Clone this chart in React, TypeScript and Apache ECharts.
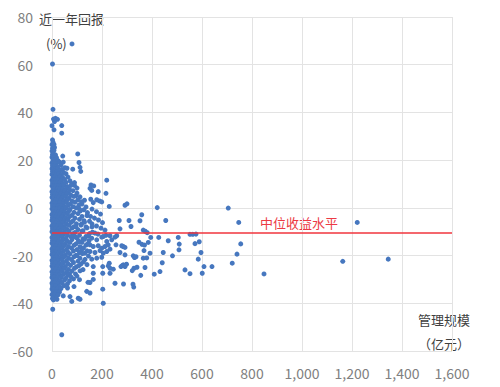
import React, { useEffect, useRef } from "react";
import * as echarts from "echarts";

// x: 管理规模 (亿元), y: 近一年回报 (%)
const xTicks = [0, 200, 400, 600, 800, 1000, 1200, 1400, 1600];
const yTicks = [-60, -40, -20, 0, 20, 40, 60, 80];
const medianReturn = -10.4;

const largeFunds = [
  [705, -0.1], [747, -6.1], [755, -15.1], [740, -19.4], [721, -23.2], [848, -27.7],
  [1163, -22.4], [1221, -6.1], [1345, -21.5],
];

const outlierFunds = [
  [80, 68.7], [2, 60.3], [4, 41.3], [6, 37.2], [14, 37.5], [22, 37.1], [10, 36.2], [0, 34.4],
  [39, 34.5], [8, 32.7], [39, 31.3], [2, 28.5], [4, 27.5], [8, 26.6], [43, 21.7], [103, 22.6],
  [45, 19.2], [108, 19], [112, 17], [115, 15.3], [83, 16.2], [52, 16.8], [60, 16.6],
  [3, -42.5], [39, -53.2], [105, -37.9], [45, -36.9], [72, -37.2], [79, -39.2], [112, -38.3],
  [139, -35], [152, -35.7], [12, -37.5], [2, -38],
];

const midFunds = [
  [219, 11.6], [216, 6.1], [152, 8.2], [159, 7.3], [167, 9.2], [156, 9.6], [185, 6.8], [179, 3.4],
  [190, 2.9], [199, 2.5], [155, 3.6], [165, 2.2], [229, 0.6], [292, 1.1], [300, 1.7], [421, 0.1],
  [160, -0.5], [178, -1.6], [194, -2.6], [154, -3.6], [170, -4.3], [186, -5.1], [202, -6.2],
  [160, -6.7], [178, -7.6], [196, -8.5], [212, -9.3], [269, -5.3], [308, -5.3], [352, -5.4],
  [359, -2.9], [455, -5.3], [316, -7.8], [272, -8.8], [365, -9.3], [373, -9.8], [381, -10.4],
  [162, -10.2], [184, -11], [216, -11.5], [232, -11.7], [259, -11.7], [252, -12.3], [205, -12],
  [159, -12.7], [179, -13.4], [199, -12.3], [219, -14.1], [239, -13.4], [152, -15.5], [165, -16.2],
  [185, -15.9], [199, -16.9], [212, -16.2], [225, -15.5], [232, -17.3], [256, -15.5], [279, -15.9],
  [285, -16.2], [292, -16.6], [152, -18.3], [172, -18.7], [192, -17.9], [205, -19], [219, -18.3],
  [272, -18.7], [292, -19.7], [325, -20.1], [159, -21.5], [179, -21.1], [199, -20.7], [229, -23.2],
  [285, -23.9], [165, -24.6], [203, -24.6], [225, -24.3], [232, -25.3], [245, -25.7], [276, -24.6],
  [165, -27.4], [203, -27.4], [232, -27.4], [252, -31.6], [152, -31.3], [286, -31.9], [203, -34.1],
  [205, -40], [324, -32], [327, -33.2], [165, -30], [144, -31.2],
  [395, -12.4], [427, -12.4], [465, -13.8], [505, -12.4], [509, -15.2], [508, -17.6], [552, -11.1],
  [563, -11.1], [576, -11], [572, -15], [589, -14.2], [596, -18.7], [585, -21.5], [608, -24.6],
  [640, -24.6], [601, -27.4], [552, -27.6], [532, -26], [482, -20.1], [441, -23], [432, -26.7],
  [409, -27.8], [348, -14.4], [360, -15.3], [370, -15.6], [385, -14.5], [368, -17.9], [445, -18.7],
  [392, -19], [379, -21], [365, -21.1], [372, -25], [355, -28.3], [330, -20.8], [336, -20.5],
  [340, -24.9], [328, -25.3], [321, -26.3], [281, -24.2], [292, -24.6], [298, -23.6],
];

const smallFunds = [
  [0, 26.5], [6, 26.2], [2, 25], [10, 25.3], [0, 23.8], [8, 24.1], [2, 22.4], [6, 22.6], [14, 22.2],
  [0, 21.2], [8, 21.4], [18, 21], [4, 20], [12, 20.2], [24, 19.8], [0, 18.8], [8, 18.9], [16, 18.6], [30, 19.1],
  [2, 17.6], [10, 17.7], [20, 17.4], [36, 17.9], [0, 16.4], [6, 16.5], [14, 16.3], [24, 16.6], [40, 16.1],
  [2, 15.2], [10, 15.3], [18, 15.1], [30, 15.4], [46, 14.9], [0, 14], [8, 14.1], [16, 13.9], [26, 14.2], [38, 13.8], [56, 14.3],
  [4, 12.8], [12, 12.9], [20, 12.7], [32, 13.1], [44, 12.5], [64, 12.9],
  [0, 11.6], [8, 11.7], [16, 11.5], [26, 11.8], [36, 11.4], [50, 11.9], [72, 11.3],
  [2, 10.4], [12, 10.5], [20, 10.3], [30, 10.6], [42, 10.2], [56, 10.7], [80, 10.1], [90, 10.6],
  [0, 9.2], [8, 9.3], [16, 9.1], [26, 9.4], [36, 9], [48, 9.5], [62, 8.9], [90, 9.4], [76, 9.4],
  [4, 8], [12, 8.1], [22, 7.9], [32, 8.2], [44, 7.8], [58, 8.3], [70, 7.7], [100, 8.3],
  [0, 6.8], [8, 6.9], [18, 6.7], [28, 7], [40, 6.6], [52, 7.1], [66, 6.5], [84, 7.2], [100, 6.2],
  [2, 5.6], [12, 5.7], [22, 5.5], [34, 5.8], [46, 5.4], [60, 5.9], [76, 5.3], [96, 5.1],
  [0, 4.4], [8, 4.5], [18, 4.3], [28, 4.6], [40, 4.2], [54, 4.7], [68, 4.1], [88, 4.8], [112, 4.6],
  [4, 3.2], [14, 3.3], [24, 3.1], [36, 3.4], [48, 3], [62, 3.5], [80, 2.9], [104, 3.4], [130, 3.2],
  [0, 2], [10, 2.1], [20, 1.9], [30, 2.2], [44, 1.8], [58, 2.3], [74, 1.7], [92, 2.4], [120, 1.6], [118, 2.6],
  [2, 0.8], [12, 0.9], [24, 0.7], [36, 1], [50, 0.6], [66, 1.1], [84, 0.5], [108, 1.2], [136, 0.4],
  [0, -0.4], [8, -0.3], [18, -0.5], [30, -0.2], [42, -0.6], [56, -0.1], [72, -0.7], [96, 0], [128, -0.8], [110, -0.6],
  [4, -1.6], [14, -1.5], [26, -1.7], [38, -1.4], [52, -1.8], [68, -1.3], [88, -1.9], [114, -1.2], [142, -2],
  [0, -2.8], [10, -2.7], [20, -2.9], [32, -2.6], [46, -3], [62, -2.5], [80, -3.1], [104, -2.4], [140, -3.2],
  [2, -4], [14, -3.9], [26, -4.1], [40, -3.8], [54, -4.2], [70, -3.7], [92, -4.3], [120, -3.6],
  [0, -5.2], [8, -5.1], [20, -5.3], [34, -5], [48, -5.4], [64, -4.9], [84, -5.5], [110, -4.8], [150, -5.6], [128, -5.4],
  [4, -6.4], [16, -6.3], [28, -6.5], [42, -6.2], [58, -6.6], [76, -6.1], [98, -6.7], [130, -6], [118, -6.8],
  [0, -7.6], [10, -7.5], [22, -7.7], [36, -7.4], [50, -7.8], [68, -7.3], [88, -7.9], [116, -7.2], [160, -8], [96, -8], [136, -8],
  [2, -8.8], [14, -8.7], [28, -8.9], [44, -8.6], [60, -9], [80, -8.5], [104, -9.1], [140, -8.4],
  [0, -10], [8, -9.9], [20, -10.1], [34, -9.8], [50, -10.2], [68, -9.7], [92, -10.3], [124, -9.6], [172, -10.6], [120, -9.8],
  [4, -11.2], [16, -11.1], [30, -11.3], [46, -11], [62, -11.4], [82, -10.9], [110, -11.5], [150, -10.8], [146, -11.8], [92, -12],
  [0, -12.4], [10, -12.3], [24, -12.5], [40, -12.2], [56, -12.6], [76, -12.1], [100, -12.7], [136, -12], [124, -13],
  [2, -13.6], [14, -13.5], [28, -13.7], [44, -13.4], [60, -13.8], [80, -13.3], [106, -13.9], [130, -13.2], [148, -13.8],
  [0, -14.8], [8, -14.7], [22, -14.9], [38, -14.6], [54, -15], [72, -14.5], [96, -15.1], [120, -14.4], [142, -15.2], [108, -14.2],
  [4, -16], [16, -15.9], [32, -16.1], [48, -15.8], [66, -16.2], [88, -15.7], [112, -16.3], [136, -15.6],
  [0, -17.2], [10, -17.1], [24, -17.3], [40, -17], [58, -17.4], [78, -16.9], [100, -17.5], [126, -16.8], [118, -17.8],
  [2, -18.4], [14, -18.3], [30, -18.5], [46, -18.2], [64, -18.6], [86, -18.1], [110, -18.7], [140, -18], [132, -19],
  [0, -19.6], [8, -19.5], [22, -19.7], [38, -19.4], [54, -19.8], [72, -19.3], [96, -19.9], [122, -19.2], [146, -20.2], [100, -20],
  [4, -20.8], [16, -20.7], [32, -20.9], [48, -20.6], [66, -21], [88, -20.5], [112, -21.1],
  [0, -22], [10, -21.9], [24, -22.1], [40, -21.8], [58, -22.2], [78, -21.7], [104, -22.3], [132, -21.6], [126, -22.6],
  [2, -23.2], [14, -23.1], [30, -23.3], [46, -23], [64, -23.4], [86, -22.9], [116, -23.5], [140, -23.8],
  [0, -24.4], [8, -24.3], [22, -24.5], [38, -24.2], [54, -24.6], [74, -24.1], [98, -24.7], [108, -24.2],
  [4, -25.6], [16, -25.5], [32, -25.7], [48, -25.4], [66, -25.8], [90, -25.3], [124, -25.9], [112, -26.4],
  [0, -26.8], [10, -26.7], [24, -26.9], [40, -26.6], [58, -27], [80, -26.5], [70, -27.6],
  [2, -28], [14, -27.9], [30, -28.1], [46, -27.8], [64, -28.2], [94, -27.7], [100, -28.6],
  [0, -29.2], [8, -29.1], [22, -29.3], [38, -29], [56, -29.4], [76, -28.9], [86, -29.8],
  [4, -30.4], [16, -30.3], [32, -30.5], [50, -30.2], [70, -30.6], [110, -30.1],
  [0, -31.6], [10, -31.5], [24, -31.7], [40, -31.4], [62, -31.8],
  [2, -32.8], [14, -32.7], [30, -32.9], [48, -32.6], [88, -33], [62, -33.6],
  [0, -34], [8, -33.9], [20, -34.1], [36, -33.8],
  [4, -35.2], [16, -35.1], [30, -35.3],
  [0, -36.4], [10, -36.3], [24, -36.5],
  [6, -38.6], [20, -38.3],
];

const allFunds = [...smallFunds, ...outlierFunds, ...midFunds, ...largeFunds];

const FONT = '"Noto Sans CJK SC", "Noto Sans", sans-serif';

export default function App() {
  const ref = useRef<HTMLDivElement>(null);
  useEffect(() => {
    if (!ref.current) return;
    const chart = echarts.init(ref.current, null, { renderer: "svg" });
    chart.setOption({
      animation: false,
      backgroundColor: "#ffffff",
      grid: { left: 52, right: 48, top: 17, bottom: 36 },
      xAxis: {
        type: "value",
        min: xTicks[0],
        max: xTicks[xTicks.length - 1],
        interval: 200,
        axisLine: { show: false },
        axisTick: { show: false },
        splitLine: { show: true, lineStyle: { color: "#e3e3e3", width: 1 } },
        axisLabel: {
          color: "#808080",
          fontSize: 14,
          fontFamily: FONT,
          margin: 15,
          formatter: (v: number) => v.toLocaleString("en-US"),
        },
      },
      yAxis: {
        type: "value",
        min: yTicks[0],
        max: yTicks[yTicks.length - 1],
        interval: 20,
        axisLine: { show: false },
        axisTick: { show: false },
        splitLine: { show: true, lineStyle: { color: "#e3e3e3", width: 1 } },
        axisLabel: { color: "#808080", fontSize: 14, fontFamily: FONT, margin: 19 },
      },
      series: [
        {
          type: "scatter",
          data: allFunds,
          symbolSize: 5,
          itemStyle: { color: "#4677bf", opacity: 1 },
          markLine: {
            silent: true,
            symbol: "none",
            label: { show: false },
            lineStyle: { color: "#f0343c", width: 1.5, type: "solid" },
            data: [{ yAxis: medianReturn }],
          },
        },
      ],
      graphic: [
        {
          type: "text",
          x: 39,
          y: 18,
          style: { text: "近一年回报", fill: "#404040", font: `13px ${FONT}`, verticalAlign: "middle" },
        },
        {
          type: "text",
          x: 46,
          y: 43,
          style: { text: "(%)", fill: "#404040", font: `13px ${FONT}`, verticalAlign: "middle" },
        },
        {
          type: "text",
          x: 418,
          y: 319,
          style: { text: "管理规模", fill: "#404040", font: `13px ${FONT}`, verticalAlign: "middle" },
        },
        {
          type: "text",
          x: 418,
          y: 343,
          style: { text: "（亿元）", fill: "#404040", font: `13px ${FONT}`, verticalAlign: "middle" },
        },
        {
          type: "text",
          x: 260,
          y: 222,
          style: { text: "中位收益水平", fill: "#ec3a44", font: `13px ${FONT}`, verticalAlign: "middle" },
        },
      ],
    });
    return () => chart.dispose();
  }, []);
  return (
    <div
      ref={ref}
      style={{ position: "fixed", left: 0, top: 0, width: 500, height: 387, background: "#fff" }}
    />
  );
}
